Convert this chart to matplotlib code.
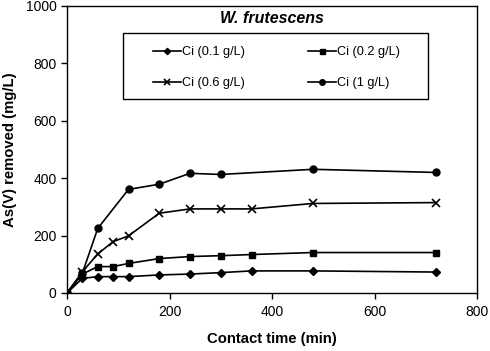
import matplotlib
matplotlib.use("Agg")
from matplotlib import pyplot as plt
from matplotlib.patches import Rectangle

plt.rcParams['font.family'] = ['Liberation Sans', 'DejaVu Sans']

# contact time (min)
t_01 = [0, 30, 60, 90, 120, 180, 240, 300, 360, 480, 720]
ci_01 = [0, 51, 57, 57, 57, 63, 66, 71, 77, 77, 73]

t_02 = [0, 30, 60, 90, 120, 180, 240, 300, 360, 480, 720]
ci_02 = [0, 66, 92, 92, 103, 120, 127, 130, 134, 141, 141]

t_06 = [0, 30, 60, 90, 120, 180, 240, 300, 360, 480, 720]
ci_06 = [0, 74, 136, 179, 199, 278, 293, 293, 293, 312, 315]

t_1 = [0, 30, 60, 120, 180, 240, 300, 480, 720]
ci_1 = [0, 69, 225, 361, 379, 417, 413, 431, 420]

labels = ['Ci (0.1 g/L)', 'Ci (0.2 g/L)', 'Ci (0.6 g/L)', 'Ci (1 g/L)']

fig = plt.figure(figsize=(4.9, 3.51), dpi=100)
ax = fig.add_axes([67 / 490, 1 - 293 / 351, 410 / 490, 287 / 351])

l1, = ax.plot(t_01, ci_01, color='black', lw=1.2, marker='D', ms=4, label=labels[0])
l2, = ax.plot(t_02, ci_02, color='black', lw=1.2, marker='s', ms=4.5, label=labels[1])
l3, = ax.plot(t_06, ci_06, color='black', lw=1.2, marker='x', ms=6, mew=1.2, label=labels[2])
l4, = ax.plot(t_1, ci_1, color='black', lw=1.2, marker='o', ms=5, label=labels[3])

ax.set_xlim(0, 800)
ax.set_ylim(0, 1000)
ax.set_xticks(range(0, 801, 200))
ax.set_yticks(range(0, 1001, 200))
ax.tick_params(direction='out', length=4, width=1, labelsize=10, colors='black')
ax.tick_params(axis='x', pad=5)
for s in ax.spines.values():
    s.set_linewidth(1)

ax.set_xlabel('Contact time (min)', fontsize=10.7, fontweight='bold', labelpad=9)
ax.set_ylabel('As(V) removed (mg/L)', fontsize=10.7, fontweight='bold', labelpad=6)
ax.text(0.5, 0.955, 'W. frutescens', transform=ax.transAxes, ha='center', va='center',
        fontsize=11.5, fontweight='bold', fontstyle='italic')

# legend frame drawn separately, entries in row order
ax.add_patch(Rectangle(((123 - 67) / 410, (293 - 99) / 287), 305 / 410, 66 / 287,
                       transform=ax.transAxes, fill=False, edgecolor='black', lw=1, zorder=5))
leg = ax.legend([l1, l3, l2, l4], [labels[0], labels[2], labels[1], labels[3]],
                loc='upper left', bbox_to_anchor=((153 - 67) / 410, (293 - 46) / 287),
                ncol=2, fontsize=9.2, frameon=False, borderpad=0, borderaxespad=0,
                handlelength=2.2, handletextpad=0.1, columnspacing=4.9, labelspacing=1.5,
                markerscale=0.8)

fig.savefig('out.png', dpi=100)
